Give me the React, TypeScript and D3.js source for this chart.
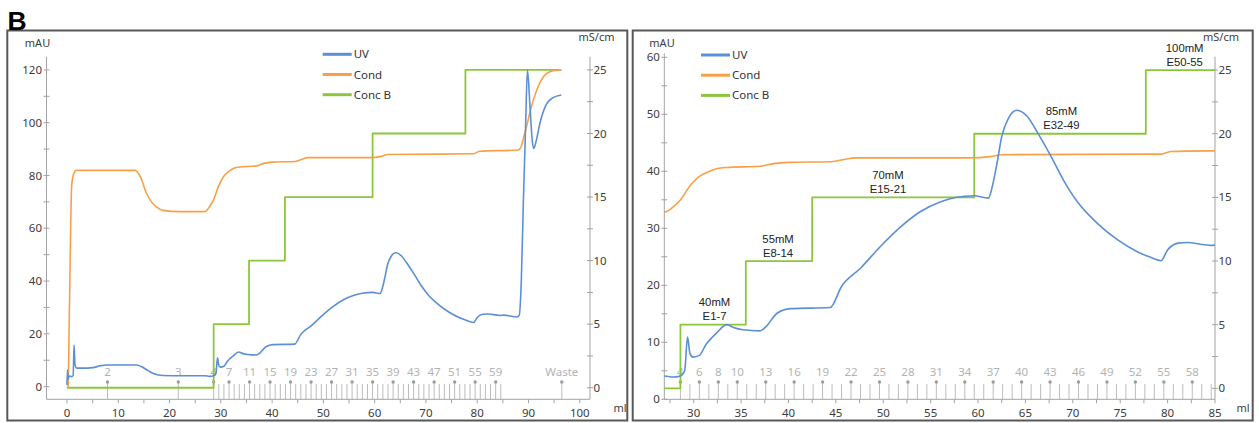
import React from "react";
import * as d3 from "d3";

// UV absorbance trace: [elution volume (ml), absorbance (mAU)]
const uvTrace: [number, number][] = [
  [0.0, 0.6], [0.08, 6.3], [0.2, 2.8], [0.4, 4.0], [0.9, 3.8], [1.2, 4.3], [1.38, 15.8], [1.55, 8.5],
  [1.9, 7.0], [3.0, 7.0], [5.0, 7.2], [6.5, 7.9], [7.7, 8.2], [13.6, 8.2], [14.6, 7.5], [15.6, 6.3],
  [16.6, 5.2], [17.6, 4.5], [18.8, 4.2], [22.0, 4.1], [26.9, 4.1], [27.8, 3.9], [28.6, 4.1], [29.05, 5.0],
  [29.35, 10.9], [29.6, 8.1], [29.9, 7.4], [30.6, 7.7], [31.3, 9.6], [32.4, 11.6], [33.5, 13.1], [34.2, 12.6],
  [35.2, 12.2], [37.0, 12.0], [37.6, 12.7], [38.8, 15.1], [40.2, 15.9], [44.4, 16.1], [45.6, 19.8], [47.6, 23.0],
  [49.7, 26.8], [51.8, 30.2], [53.9, 32.9], [56.0, 34.6], [57.6, 35.4], [59.6, 35.7], [61.1, 35.3], [61.5, 37.3],
  [62.0, 41.4], [62.5, 46.1], [63.2, 49.3], [64.1, 50.7], [65.2, 49.6], [66.2, 47.0], [67.7, 42.6], [69.1, 38.2],
  [70.5, 34.6], [72.5, 31.0], [74.7, 28.0], [76.8, 25.9], [78.2, 24.9], [79.3, 24.3], [80.0, 26.2], [81.1, 27.4],
  [82.1, 27.5], [83.9, 27.1], [84.6, 27.0], [85.2, 27.1], [87.7, 26.4], [88.2, 27.0], [88.6, 40], [89.0, 70],
  [89.4, 96], [89.8, 120], [90.3, 106], [90.7, 94], [91.0, 90.2], [91.5, 93], [92.2, 99.5], [93.5, 107],
  [94.8, 109.5], [96.4, 110.5],
];

// Conductivity trace: [elution volume (ml), conductivity (mS/cm)]
const condTrace: [number, number][] = [
  [0.0, 0.0], [0.2, 0.1], [0.5, 7.0], [0.9, 15.8], [1.2, 16.7], [1.8, 17.1], [13.3, 17.1], [14.3, 16.6],
  [15.5, 15.3], [16.5, 14.6], [17.5, 14.2], [18.7, 13.95], [22.0, 13.85], [26.9, 13.85], [27.9, 14.3],
  [28.6, 14.8], [29.6, 15.9], [30.5, 16.6], [31.5, 17.0], [32.4, 17.25], [33.5, 17.35], [37.0, 17.45],
  [38.4, 17.65], [40.0, 17.75], [44.5, 17.8], [46.0, 18.0], [47.0, 18.1], [59.0, 18.1], [61.3, 18.2],
  [62.5, 18.35], [79.3, 18.4], [80.4, 18.6], [88.0, 18.7], [88.6, 19.0], [89.0, 19.6], [89.6, 20.5],
  [90.5, 22.0], [91.6, 23.4], [92.5, 24.2], [93.5, 24.7], [95.0, 24.95], [96.4, 25.0],
];

// Step gradient: [volume at which the step starts (ml), %B]
const concBSteps: [number, number][] = [
  [0, 0], [28.6, 20], [35.5, 40], [42.5, 60], [59.6, 80], [77.7, 100], [96.4, 100],
];

// Fraction collector marks
const fractionNames: string[] = [
  "2", "3", "4", "5", "6", "7", "8", "9", "10", "11", "12", "13", "14", "15", "16", "17", "18", "19", "20",
  "21", "22", "23", "24", "25", "26", "27", "28", "29", "30", "31", "32", "33", "34", "35", "36", "37", "38",
  "39", "40", "41", "42", "43", "44", "45", "46", "47", "48", "49", "50", "51", "52", "53", "54", "55", "56",
  "57", "58", "59", "60", "Waste",
];
const fractionStartMl: number[] = [
  7.9, 21.7, 28.6, 29.6, 30.6, 31.6, 32.6, 33.6, 34.6, 35.6, 36.6, 37.6, 38.6, 39.6, 40.6, 41.6, 42.6, 43.6,
  44.6, 45.6, 46.6, 47.6, 48.6, 49.6, 50.6, 51.6, 52.6, 53.6, 54.6, 55.6, 56.6, 57.6, 58.6, 59.6, 60.6, 61.6,
  62.6, 63.6, 64.6, 65.6, 66.6, 67.6, 68.6, 69.6, 70.6, 71.6, 72.6, 73.6, 74.6, 75.6, 76.6, 77.6, 78.6, 79.6,
  80.6, 81.6, 82.6, 83.6, 84.6, 96.5,
];
const overviewFractionLabels: string[] = [
  "2", "3", "4", "7", "11", "15", "19", "23", "27", "31", "35", "39", "43", "47", "51", "55", "59", "Waste",
];
const detailFractionLabels: string[] = [
  "4", "6", "8", "10", "13", "16", "19", "22", "25", "28", "31", "34", "37", "40", "43", "46", "49", "52", "55", "58",
];

// Step annotations in the detail view
const stepSalt: string[] = ["40mM", "55mM", "70mM", "85mM", "100mM"];
const stepPools: string[] = ["E1-7", "E8-14", "E15-21", "E32-49", "E50-55"];
const stepLabelMl: number[] = [32.2, 38.9, 50.5, 68.8, 81.8];
const stepLabelPctB: number[] = [20, 40, 60, 80, 100];

const legendNames: string[] = ["UV", "Cond", "Conc B"];

const UV_COLOR = "#5b8fd6";
const COND_COLOR = "#f8a047";
const CONC_COLOR = "#8cc63c";
const AXIS_COLOR = "#a3a3a3";
const TICK_TEXT = "#3c3c3c";
const FRACTION_COLOR = "#bcbcbc";
const FONT = "'Noto Sans', 'Open Sans', sans-serif";

type PanelConfig = {
  id: string;
  frame: [number, number, number, number];
  xDomain: [number, number];
  xRange: [number, number];
  uvDomain: [number, number];
  uvRange: [number, number];
  condDomain: [number, number];
  condRange: [number, number];
  xMajor: number[];
  xMinor: number[];
  uvMajor: number[];
  uvMinor: number[];
  condMajor: number[];
  condMinor: number[];
  fractionLabels: string[];
  legend: [number, number];
  mauPos: [number, number];
  msPos: [number, number];
  mlPos: [number, number];
  annotate: boolean;
};

const panels: PanelConfig[] = [
  {
    id: "overview",
    frame: [7.3, 30.5, 620, 390],
    xDomain: [-4.0, 102],
    xRange: [46.5, 590],
    uvDomain: [-4.8, 125],
    uvRange: [399.3, 56.7],
    condDomain: [-0.91, 26.04],
    condRange: [399.3, 56.7],
    xMajor: d3.range(0, 101, 10),
    xMinor: d3.range(5, 101, 10),
    uvMajor: d3.range(0, 121, 20),
    uvMinor: d3.range(10, 121, 20),
    condMajor: d3.range(0, 26, 5),
    condMinor: d3.range(2.5, 25, 5),
    fractionLabels: overviewFractionLabels,
    legend: [322.7, 54.3],
    mauPos: [37.5, 42.7],
    msPos: [596.5, 37],
    mlPos: [620, 408],
    annotate: false,
  },
  {
    id: "detail",
    frame: [632.7, 30.5, 620, 390],
    xDomain: [26.9, 85],
    xRange: [664.3, 1215],
    uvDomain: [0, 60.7],
    uvRange: [399.3, 53.3],
    condDomain: [-0.86, 26.05],
    condRange: [399.3, 56.7],
    xMajor: d3.range(30, 86, 5),
    xMinor: d3.range(27.5, 85, 5),
    uvMajor: d3.range(0, 61, 10),
    uvMinor: d3.range(5, 60, 10),
    condMajor: d3.range(0, 26, 5),
    condMinor: d3.range(2.5, 25, 5),
    fractionLabels: detailFractionLabels,
    legend: [701, 55],
    mauPos: [662, 42.7],
    msPos: [1221, 37],
    mlPos: [1243, 408],
    annotate: true,
  },
];

function Panel({ c }: { c: PanelConfig }) {
  const x = d3.scaleLinear().domain(c.xDomain).range(c.xRange);
  const yUv = d3.scaleLinear().domain(c.uvDomain).range(c.uvRange);
  const yCond = d3.scaleLinear().domain(c.condDomain).range(c.condRange);
  // %B shares the conductivity frame: 100 %B sits at 25 mS/cm
  const yConc = d3
    .scaleLinear()
    .domain([c.condDomain[0] * 4, c.condDomain[1] * 4])
    .range(c.condRange);

  const [x0, x1] = c.xRange;
  const yBase = c.uvRange[0];
  const yTopLeft = c.uvRange[1];
  const yTopRight = c.condRange[1];

  const uvLine = d3
    .line<[number, number]>()
    .x((d) => x(d[0]))
    .y((d) => yUv(d[1]))
    .curve(d3.curveMonotoneX);
  const condLine = d3
    .line<[number, number]>()
    .x((d) => x(d[0]))
    .y((d) => yCond(d[1]))
    .curve(d3.curveMonotoneX);
  const concLine = d3
    .line<[number, number]>()
    .x((d) => x(d[0]))
    .y((d) => yConc(d[1]))
    .curve(d3.curveStepAfter);

  const clipId = `clip-${c.id}`;
  const labelled = new Set(c.fractionLabels);
  const fractions = fractionNames
    .map((name, i) => ({ name, ml: fractionStartMl[i] }))
    .filter((f) => f.ml >= c.xDomain[0] && f.ml <= c.xDomain[1]);

  const legendColors = [UV_COLOR, COND_COLOR, CONC_COLOR];

  return (
    <g>
      <rect
        x={c.frame[0]}
        y={c.frame[1]}
        width={c.frame[2]}
        height={c.frame[3]}
        fill="#fff"
        stroke="#585858"
        strokeWidth={2}
      />
      <defs>
        <clipPath id={clipId}>
          <rect x={x0} y={c.frame[1]} width={x1 - x0} height={yBase - c.frame[1]} />
        </clipPath>
      </defs>

      {/* fraction marks */}
      <g>
        {fractions.map((f) => {
          const fx = x(f.ml);
          const isLab = labelled.has(f.name);
          return (
            <g key={f.name}>
              <line x1={fx} x2={fx} y1={isLab ? 382 : 384} y2={yBase} stroke={FRACTION_COLOR} strokeWidth={1} />
              {isLab && <circle cx={fx} cy={382} r={1.7} fill="#9c9c9c" />}
              {isLab && (
                <text
                  x={fx}
                  y={376}
                  textAnchor="middle"
                  fontSize={11.5}
                  fontFamily={FONT}
                  fill="#b3b3b3"
                >
                  {f.name}
                </text>
              )}
            </g>
          );
        })}
      </g>

      {/* axes */}
      <g stroke={AXIS_COLOR} strokeWidth={1} fill="none">
        <line x1={x0} x2={x1} y1={yBase} y2={yBase} />
        <line x1={x0} x2={x0} y1={yTopLeft} y2={yBase} />
        <line x1={x1} x2={x1} y1={yTopRight} y2={yBase} />
        {c.xMajor.concat(c.xMinor).map((v) => (
          <line key={`xt${v}`} x1={x(v)} x2={x(v)} y1={yBase} y2={yBase + 4} />
        ))}
        {c.uvMajor.concat(c.uvMinor).map((v) => (
          <line key={`ul${v}`} x1={x0 - 3} x2={x0 + 3} y1={yUv(v)} y2={yUv(v)} />
        ))}
        {c.condMajor.concat(c.condMinor).map((v) => (
          <line key={`cr${v}`} x1={x1 - 3} x2={x1 + 3} y1={yCond(v)} y2={yCond(v)} />
        ))}
      </g>
      <g fontFamily={FONT} fontSize={11.5} fill={TICK_TEXT}>
        {c.xMajor.map((v) => (
          <text key={`xl${v}`} x={x(v)} y={416.5} textAnchor="middle">
            {v}
          </text>
        ))}
        {c.uvMajor.map((v) => (
          <text key={`ull${v}`} x={x0 - 4.5} y={yUv(v)} dy="0.35em" textAnchor="end">
            {v}
          </text>
        ))}
        {c.condMajor.map((v) => (
          <text key={`crl${v}`} x={x1 + 3.5} y={yCond(v)} dy="0.35em" textAnchor="start">
            {v}
          </text>
        ))}
        <text x={c.mauPos[0]} y={c.mauPos[1]} dy="0.35em" textAnchor="middle" fontSize={11}>
          mAU
        </text>
        <text x={c.msPos[0]} y={c.msPos[1]} dy="0.35em" textAnchor="middle" fontSize={11}>
          mS/cm
        </text>
        <text x={c.mlPos[0]} y={c.mlPos[1]} dy="0.35em" textAnchor="middle" fontSize={11}>
          ml
        </text>
      </g>

      {/* traces */}
      <g clipPath={`url(#${clipId})`} fill="none" strokeLinejoin="round">
        <path d={concLine(concBSteps) ?? ""} stroke={CONC_COLOR} strokeWidth={1.8} />
        <path d={condLine(condTrace) ?? ""} stroke={COND_COLOR} strokeWidth={1.6} />
        <path d={uvLine(uvTrace) ?? ""} stroke={UV_COLOR} strokeWidth={1.6} />
      </g>

      {/* legend */}
      <g fontFamily={FONT} fontSize={11.5} fill="#333">
        {legendNames.map((name, i) => {
          const ly = c.legend[1] + i * 20.2;
          return (
            <g key={name}>
              <line
                x1={c.legend[0]}
                x2={c.legend[0] + 29}
                y1={ly}
                y2={ly}
                stroke={legendColors[i]}
                strokeWidth={3}
              />
              <text x={c.legend[0] + 31} y={ly} dy="0.35em">
                {name}
              </text>
            </g>
          );
        })}
      </g>

      {/* step annotations */}
      {c.annotate && (
        <g fontFamily="'Liberation Sans', Arial, sans-serif" fontSize={11.3} fill="#222" textAnchor="middle">
          {stepSalt.map((s, i) => {
            const lx = x(stepLabelMl[i]);
            const ly = yConc(stepLabelPctB[i]);
            return (
              <g key={s}>
                <text x={lx} y={ly - 18.5}>
                  {s}
                </text>
                <text x={lx} y={ly - 4.5}>
                  {stepPools[i]}
                </text>
              </g>
            );
          })}
        </g>
      )}
    </g>
  );
}

export default function App() {
  return (
    <svg
      width={1259}
      height={423}
      viewBox="0 0 1259 423"
      style={{ position: "absolute", left: 0, top: 0, background: "#fff" }}
    >
      <rect x={0} y={0} width={1259} height={423} fill="#fff" />
      {panels.map((p) => (
        <Panel key={p.id} c={p} />
      ))}
      <text
        x={7.5}
        y={29.5}
        fontFamily="'Liberation Sans', Arial, sans-serif"
        fontWeight="bold"
        fontSize={26.5}
        fill="#000"
      >
        B
      </text>
    </svg>
  );
}
